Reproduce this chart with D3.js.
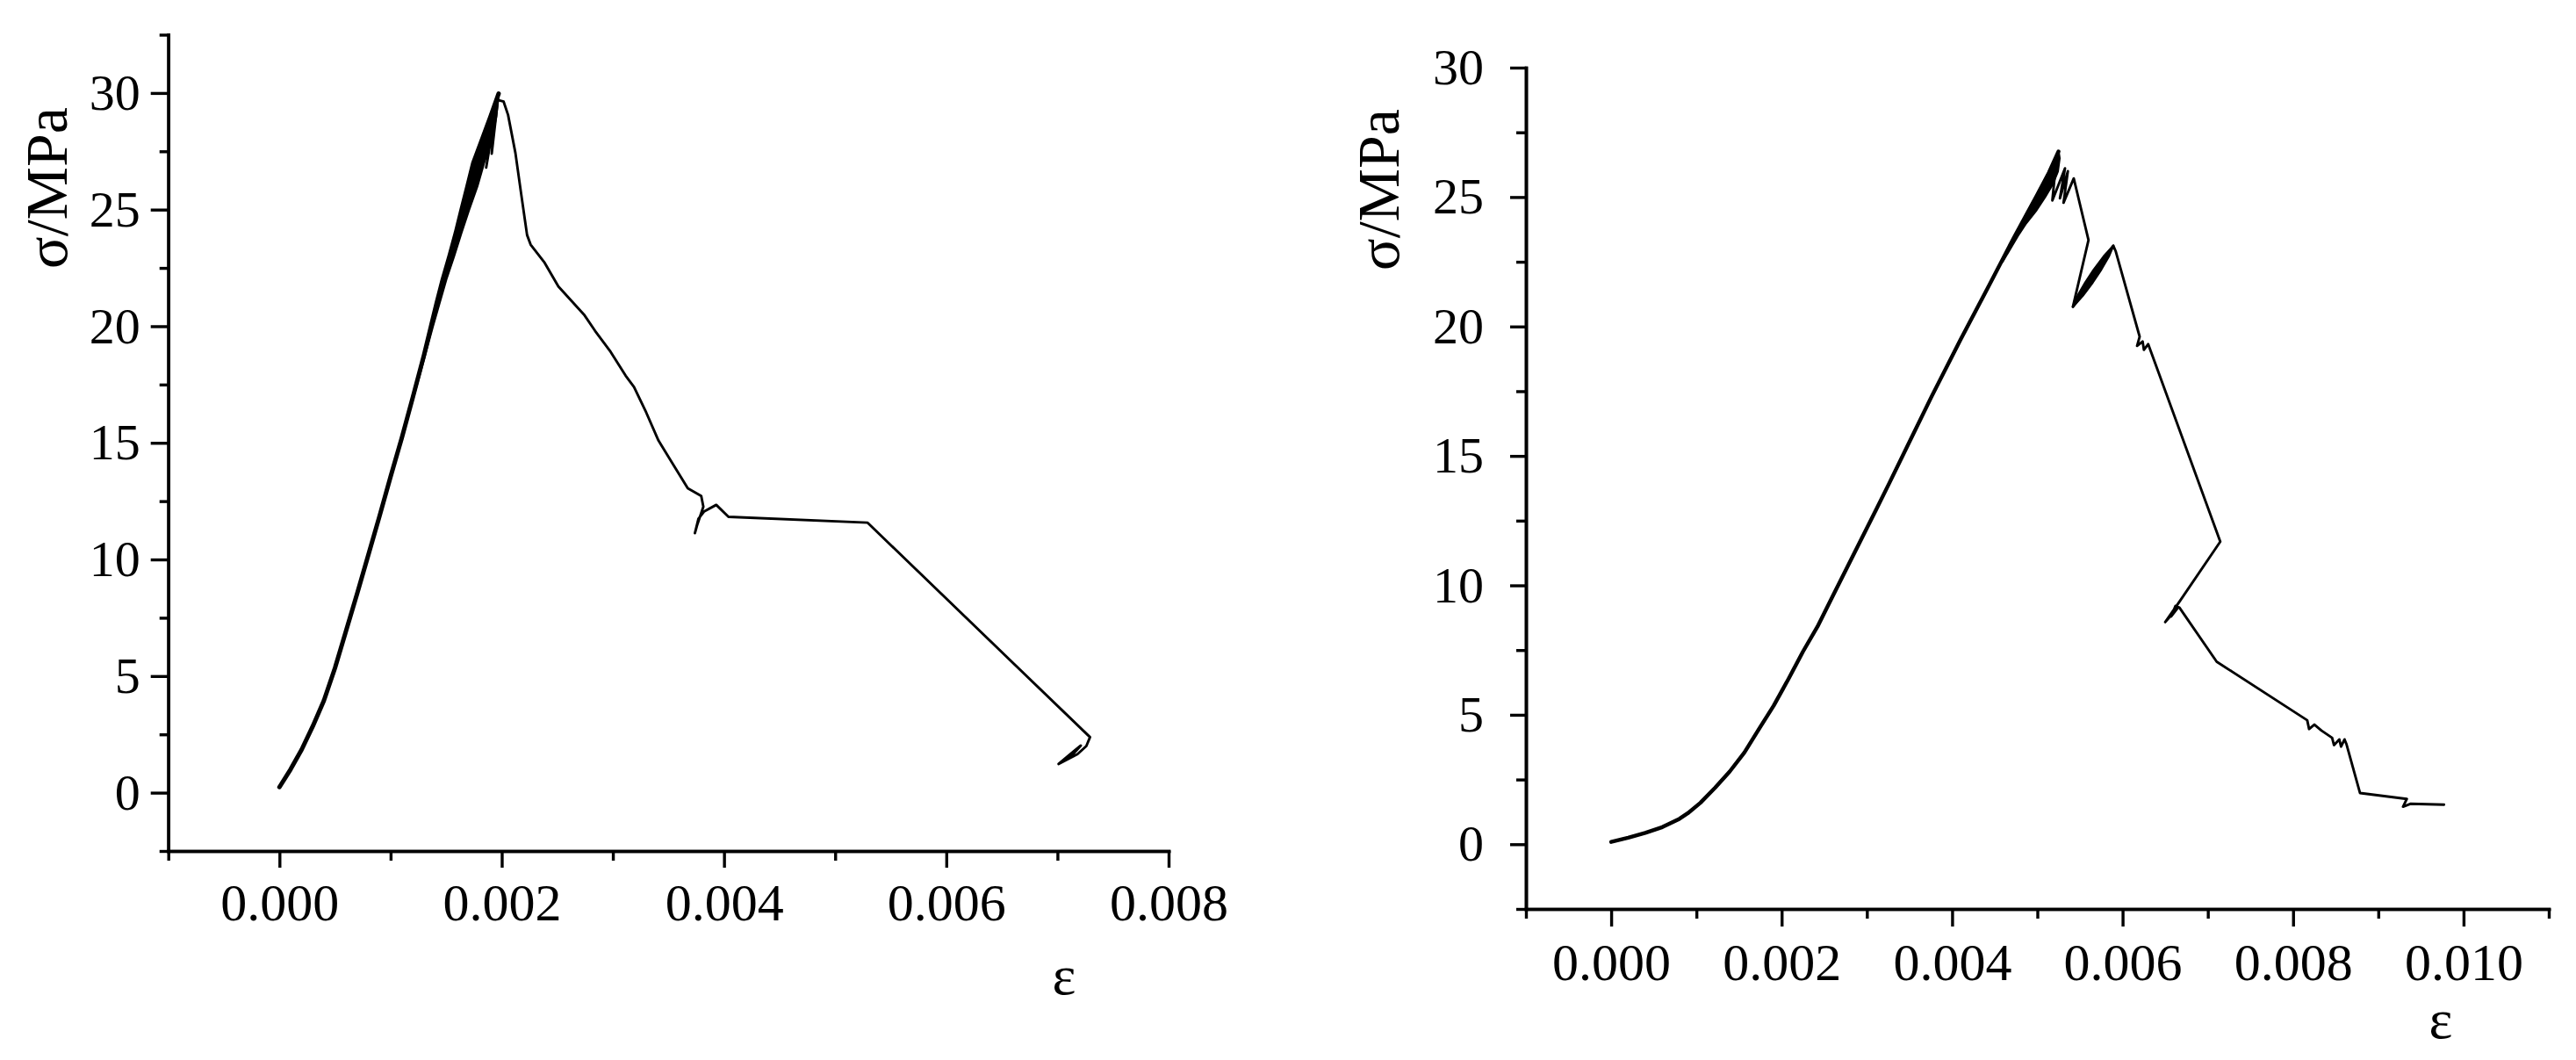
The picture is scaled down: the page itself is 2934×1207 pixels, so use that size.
<!DOCTYPE html>
<html>
<head>
<meta charset="utf-8">
<script src="https://cdn.jsdelivr.net/npm/d3@7"></script>
<style>
  html, body { margin: 0; padding: 0; background: #ffffff; }
  svg { display: block; }
</style>
</head>
<body>
<svg id="chart" width="2934" height="1207"></svg>
<script>
// ---------------- DATA ----------------
// Left specimen: strain (ε) and stress (σ, MPa)
const leftStrain = [
  0.0, 0.0001, 0.0002, 0.0003, 0.0004, 0.0005, 0.0006, 0.0007, 0.0008, 0.0009,
  0.001, 0.0011, 0.0012, 0.0013, 0.001364, 0.001415, 0.001469, 0.00153, 0.001587, 0.001639,
  0.001692, 0.001744, 0.001822, 0.0019, 0.001972,
  0.00186, 0.00194, 0.00191, 0.001965,
  0.002017, 0.002057, 0.002123, 0.002175, 0.002228, 0.00226, 0.002386, 0.00251, 0.00274, 0.00284,
  0.00298, 0.003115, 0.00319, 0.0033, 0.00341, 0.003674, 0.003795, 0.003814, 0.00376, 0.003738,
  0.00377, 0.00382, 0.00393, 0.00404, 0.00529, 0.007293, 0.00726, 0.00718, 0.00701, 0.00714,
  0.00721, 0.00712, 0.00703
];
const leftStress = [
  0.24, 1.0, 1.85, 2.85, 3.95, 5.35, 6.95, 8.55, 10.2, 11.85,
  13.55, 15.2, 16.95, 18.75, 20.0, 21.0, 22.0, 23.0, 24.0, 25.0,
  26.0, 27.0, 28.0, 29.0, 29.97,
  26.8, 29.3, 27.4, 29.7,
  29.63, 29.06, 27.43, 25.67, 23.91, 23.5, 22.72, 21.7, 20.5, 19.8,
  18.9, 17.88, 17.4, 16.3, 15.1, 13.05, 12.72, 12.26, 11.5, 11.13,
  11.75, 12.05, 12.34, 11.83, 11.58, 2.38, 2.0, 1.65, 1.23, 1.75,
  2.02, 1.55, 1.3
];
const leftLoadingCount = 25;   // points up to the first peak

// Left: envelope of the overlapping load/unload cycles below the peak
const leftBandStress = [15, 18, 20, 22, 23, 24, 25, 26, 27, 28, 29, 29.97];
const leftBandLow    = [0.001088, 0.001258, 0.001364, 0.001469, 0.00153, 0.001587, 0.001639, 0.001692, 0.001744, 0.001822, 0.0019, 0.001972];
const leftBandHigh   = [0.00109, 0.001266, 0.00138, 0.0015, 0.00157, 0.001636, 0.001706, 0.00178, 0.00184, 0.00191, 0.00195, 0.001972];

// Right specimen: strain (ε) and stress (σ, MPa)
const rightStrain = [
  0.0, 0.0002, 0.0004, 0.0006, 0.0008, 0.0009, 0.001047, 0.001219, 0.001391, 0.001563,
  0.001734, 0.001906, 0.002078, 0.00225, 0.002421, 0.002593, 0.002765, 0.002937, 0.003109, 0.003263,
  0.00376, 0.0041, 0.00442, 0.00472, 0.005, 0.005135, 0.005248,
  0.005221, 0.005176, 0.005324, 0.005265, 0.005358, 0.005307, 0.005427, 0.0056, 0.005417,
  0.005891,
  0.00592, 0.0062, 0.00617, 0.006235, 0.00625, 0.0063, 0.007146, 0.006667, 0.0065, 0.00664,
  0.00657, 0.00662, 0.006667, 0.007104, 0.008166, 0.008188, 0.00825, 0.008333, 0.008458, 0.00848,
  0.008542, 0.008563, 0.008604, 0.008625, 0.008785, 0.009335, 0.00929, 0.009376, 0.009771
];
const rightStress = [
  0.09, 0.25, 0.44, 0.66, 0.98, 1.2, 1.6, 2.18, 2.81, 3.54,
  4.45, 5.35, 6.37, 7.44, 8.41, 9.54, 10.67, 11.8, 12.93, 13.95,
  17.3, 19.5, 21.5, 23.4, 25.1, 25.94, 26.76,
  26.4, 24.87, 26.11, 24.95, 26.0, 24.78, 25.72, 23.34, 20.76,
  23.12,
  22.9, 19.61, 19.25, 19.42, 19.1, 19.32, 11.69, 9.37, 8.58, 9.1,
  8.8, 9.2, 9.14, 7.05, 4.79, 4.45, 4.62, 4.39, 4.11, 3.83,
  4.05, 3.77, 4.05, 3.88, 1.98, 1.75, 1.45, 1.56, 1.53
];
const rightLoadingCount = 27;  // points up to the first peak

// Right: envelopes of the cycle clusters at the first peak and at the secondary peak
const rightBandStress = [22.5, 23.5, 24.0, 24.5, 25.0, 25.5, 26.0, 26.5, 26.76];
const rightBandLow    = [0.004578, 0.004736, 0.004819, 0.0049, 0.004984, 0.005064, 0.005143, 0.005212, 0.005248];
const rightBandHigh   = [0.00459, 0.00477, 0.00487, 0.00499, 0.00509, 0.00518, 0.00524, 0.00526, 0.005248];
const rightBand2Stress = [20.76, 21.2, 21.7, 22.2, 22.7, 23.12];
const rightBand2Low    = [0.005417, 0.005475, 0.005563, 0.005663, 0.005777, 0.005891];
const rightBand2High   = [0.005417, 0.005535, 0.005649, 0.005749, 0.005837, 0.005891];

// Tick values
const stressTicksMajor = [0, 5, 10, 15, 20, 25, 30];
const stressTicksMinorLeft = [-2.5, 2.5, 7.5, 12.5, 17.5, 22.5, 27.5, 32.5];
const stressTicksMinorRight = [-2.5, 2.5, 7.5, 12.5, 17.5, 22.5, 27.5];
const strainTicksLeft = [0.000, 0.002, 0.004, 0.006, 0.008];
const strainTicksMinorLeft = [-0.001, 0.001, 0.003, 0.005, 0.007];
const strainTicksRight = [0.000, 0.002, 0.004, 0.006, 0.008, 0.010];
const strainTicksMinorRight = [-0.001, 0.001, 0.003, 0.005, 0.007, 0.009, 0.011];

const yTitle = "σ/MPa";
const xTitle = "ε";

// ---------------- DRAW ----------------
const FONT = "'Liberation Serif', 'Times New Roman', Times, serif";
const svg = d3.select("#chart");

function panel(o) {
  const x = d3.scaleLinear().domain(o.xDomain).range(o.xRange);
  const y = d3.scaleLinear().domain(o.yDomain).range(o.yRange);
  const g = svg.append("g");

  const styleAxis = sel => {
    sel.select(".domain").attr("stroke", "#000").attr("stroke-width", 3.6).attr("stroke-linecap", "square");
    sel.selectAll(".tick line").attr("stroke", "#000").attr("stroke-width", 3.4);
  };

  // y axis minor
  g.append("g")
    .attr("transform", `translate(${o.xRange[0]},0)`)
    .call(d3.axisLeft(y).tickValues(o.yMinor).tickSize(o.yMinorLen).tickSizeOuter(0).tickFormat(""))
    .call(styleAxis);
  // y axis major
  const ya = g.append("g")
    .attr("transform", `translate(${o.xRange[0]},0)`)
    .call(d3.axisLeft(y).tickValues(o.yMajor).tickSize(o.yMajorLen).tickPadding(o.yPad)
      .tickSizeOuter(0).tickFormat(d3.format("d")))
    .call(styleAxis);
  ya.selectAll("text").attr("font-family", FONT).attr("font-size", o.yFont).attr("fill", "#000");

  // x axis minor
  g.append("g")
    .attr("transform", `translate(0,${o.yRange[0]})`)
    .call(d3.axisBottom(x).tickValues(o.xMinor).tickSize(o.xMinorLen).tickSizeOuter(0).tickFormat(""))
    .call(styleAxis);
  // x axis major
  const xa = g.append("g")
    .attr("transform", `translate(0,${o.yRange[0]})`)
    .call(d3.axisBottom(x).tickValues(o.xMajor).tickSize(o.xMajorLen).tickSizeOuter(0)
      .tickFormat(d3.format(".3f")))
    .call(styleAxis);
  xa.selectAll("text")
    .attr("font-family", FONT).attr("font-size", o.xFont).attr("fill", "#000")
    .attr("y", o.xLabelBaseline).attr("dy", 0);

  // cycle envelopes (dense overlapping loops) as filled bands
  const area = d3.area()
    .y(d => y(d.s)).x0(d => x(d.lo)).x1(d => x(d.hi));
  o.bands.forEach(b => {
    const rows = b.stress.map((s, i) => ({ s: s, lo: b.low[i], hi: b.high[i] }));
    g.append("path")
      .datum(rows)
      .attr("fill", "#000")
      .attr("stroke", "#000")
      .attr("stroke-width", 2.6)
      .attr("stroke-linejoin", "round")
      .attr("d", area);
  });

  // curve
  const pts = o.strain.map((e, i) => [e, o.stress[i]]);
  const line = d3.line().x(d => x(d[0])).y(d => y(d[1]));
  g.append("path")
    .datum(pts)
    .attr("fill", "none")
    .attr("stroke", "#000")
    .attr("stroke-width", 2.9)
    .attr("stroke-linejoin", "round")
    .attr("stroke-linecap", "round")
    .attr("d", line);
  // loading branch (repeated cycles overlap here, so it reads heavier)
  g.append("path")
    .datum(pts.slice(0, o.loadingCount))
    .attr("fill", "none")
    .attr("stroke", "#000")
    .attr("stroke-width", o.loadingWidth)
    .attr("stroke-linejoin", "round")
    .attr("stroke-linecap", "round")
    .attr("d", line);

  // titles
  g.append("text")
    .attr("transform", `translate(${o.yTitlePos[0]},${o.yTitlePos[1]}) rotate(-90)`)
    .attr("text-anchor", "middle")
    .attr("font-family", FONT).attr("font-size", o.titleFont).attr("fill", "#000")
    .text(yTitle);
  g.append("text")
    .attr("x", o.xTitlePos[0]).attr("y", o.xTitlePos[1])
    .attr("text-anchor", "middle")
    .attr("font-family", FONT).attr("font-size", o.epsFont).attr("fill", "#000")
    .text(xTitle);
}

panel({
  strain: leftStrain, stress: leftStress, loadingCount: leftLoadingCount, loadingWidth: 5,
  bands: [{ stress: leftBandStress, low: leftBandLow, high: leftBandHigh }],
  xDomain: [-0.001, 0.008], xRange: [191.7, 1331],
  yDomain: [-2.5, 32.5], yRange: [969, 39.5],
  yMajor: stressTicksMajor, yMinor: stressTicksMinorLeft,
  xMajor: strainTicksLeft, xMinor: strainTicksMinorLeft,
  yMajorLen: 20, yMinorLen: 10, yPad: 12, yFont: 58,
  xMajorLen: 19, xMinorLen: 11, xFont: 60, xLabelBaseline: 79,
  yTitlePos: [76, 214], xTitlePos: [1212, 1132],
  titleFont: 68, epsFont: 64
});

panel({
  strain: rightStrain, stress: rightStress, loadingCount: rightLoadingCount, loadingWidth: 4.4,
  bands: [
    { stress: rightBandStress, low: rightBandLow, high: rightBandHigh },
    { stress: rightBand2Stress, low: rightBand2Low, high: rightBand2High }
  ],
  xDomain: [-0.001, 0.011], xRange: [1738, 2903],
  yDomain: [-2.5, 30], yRange: [1035, 77],
  yMajor: stressTicksMajor, yMinor: stressTicksMinorRight,
  xMajor: strainTicksRight, xMinor: strainTicksMinorRight,
  yMajorLen: 18, yMinorLen: 11, yPad: 30, yFont: 58,
  xMajorLen: 20, xMinorLen: 11, xFont: 60, xLabelBaseline: 81,
  yTitlePos: [1593, 216], xTitlePos: [2780, 1182],
  titleFont: 68, epsFont: 64
});
</script>
</body>
</html>
